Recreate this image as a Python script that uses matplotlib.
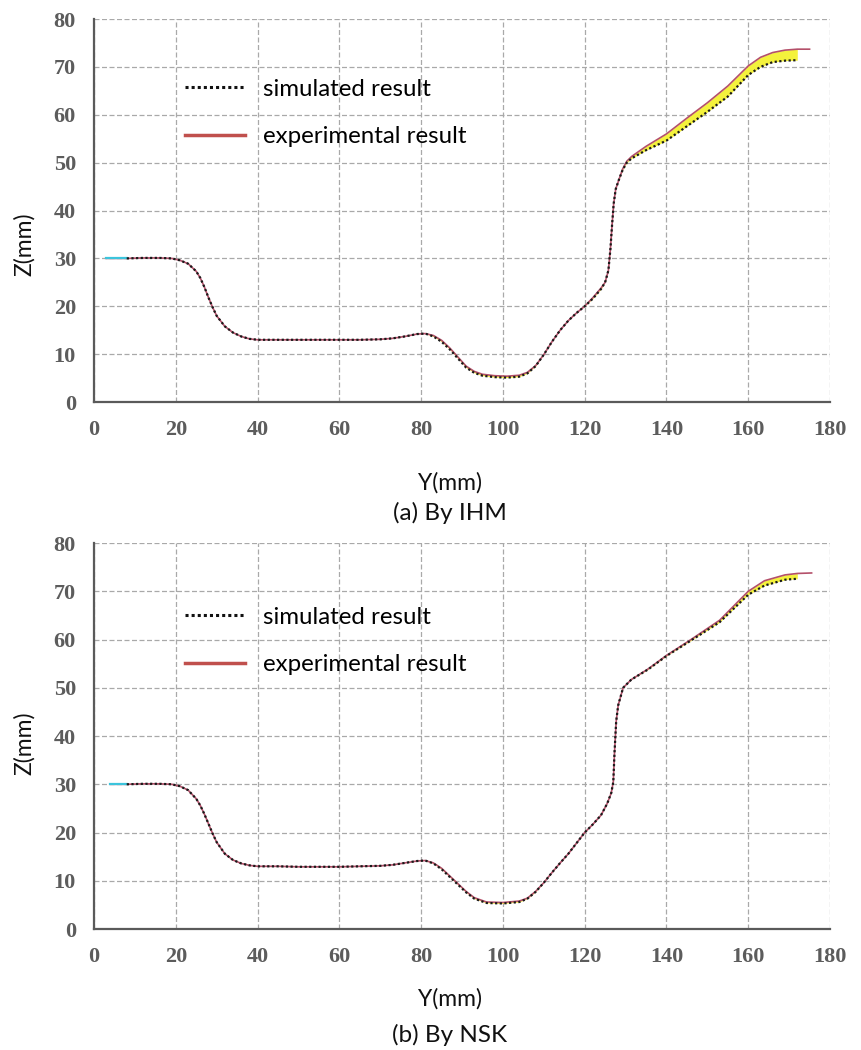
import numpy as np
import matplotlib
matplotlib.use("Agg")
import matplotlib.pyplot as plt

# ---------------------------------------------------------------
# profile data, Y(mm) vs Z(mm)
# ---------------------------------------------------------------
nan = np.nan

# (a) IHM
y_a = [3, 8, 12, 16, 19, 21, 23, 25, 26, 27, 28, 29, 30, 32, 34, 36, 38, 40,
       45, 50, 55, 60, 65, 70, 73, 76, 79, 81, 83, 85, 87, 89, 91, 93, 95, 98,
       101, 104, 106, 108, 110, 112, 114, 116, 118, 120, 122, 124, 125, 125.8,
       126.3, 126.7, 127.1, 127.6, 128.4, 129.3, 130.3, 131.5, 135, 140, 145,
       150, 155, 160, 163, 166, 169, 172, 175]
exp_a = [30.0, 30.0, 30.1, 30.1, 30.0, 29.6, 28.9, 27.3, 25.9, 24.0, 21.8, 19.8,
         18.0, 15.8, 14.5, 13.7, 13.2, 13.0, 13.0, 13.0, 13.0, 13.0, 13.0, 13.1,
         13.3, 13.7, 14.2, 14.3, 13.9, 12.9, 11.3, 9.4, 7.5, 6.4, 5.8, 5.5, 5.4,
         5.6, 6.2, 7.6, 9.9, 12.6, 15.0, 17.0, 18.6, 20.0, 21.8, 23.8, 25.0, 27.5,
         32.0, 37.0, 41.5, 44.5, 46.5, 48.7, 50.3, 51.3, 53.4, 56.0, 59.3, 62.5,
         66.0, 70.2, 72.0, 73.0, 73.5, 73.7, 73.7]
sim_a = [nan, 30.0, 30.1, 30.1, 30.0, 29.6, 28.9, 27.3, 25.9, 24.0, 21.8, 19.8,
         18.0, 15.8, 14.5, 13.7, 13.2, 13.0, 13.0, 13.0, 13.0, 13.0, 13.0, 13.1,
         13.3, 13.7, 14.2, 14.3, 13.7, 12.6, 11.0, 9.1, 7.2, 6.1, 5.5, 5.2, 5.1,
         5.3, 6.0, 7.5, 9.9, 12.6, 15.0, 17.0, 18.6, 20.0, 21.6, 23.6, 25.0, 27.5,
         32.0, 37.0, 41.5, 44.5, 46.5, 48.5, 50.0, 50.9, 52.6, 54.6, 57.6, 60.6,
         63.8, 68.3, 70.0, 71.0, 71.3, 71.4, nan]

# (b) NSK
y_b = [4, 8, 12, 16, 19, 21, 23, 25, 26, 27, 28, 29, 30, 32, 34, 36, 38, 40,
       45, 50, 55, 60, 65, 70, 73, 76, 79, 81, 83, 85, 87, 89, 91, 93, 96, 100,
       104, 106, 108, 110, 112, 114, 116, 118, 120, 122, 124, 125.5, 126.5, 127,
       127.3, 127.7, 128.2, 129.4, 131.4, 135.5, 140, 146, 153, 160, 164, 169,
       172, 175.5]
exp_b = [30.0, 30.0, 30.1, 30.1, 30.0, 29.6, 28.8, 27.0, 25.6, 23.8, 21.8, 19.8,
         18.0, 15.6, 14.3, 13.6, 13.2, 13.0, 13.0, 12.9, 12.9, 12.9, 13.0, 13.1,
         13.3, 13.7, 14.1, 14.2, 13.7, 12.6, 11.0, 9.4, 7.8, 6.5, 5.6, 5.5, 5.8,
         6.4, 7.8, 9.6, 11.7, 13.7, 15.6, 17.8, 20.0, 21.7, 23.6, 26.0, 28.2, 30.5,
         36.6, 43.0, 46.4, 50.0, 51.7, 53.9, 56.7, 60.0, 64.0, 70.0, 72.2, 73.4,
         73.7, 73.8]
sim_b = [nan, 30.0, 30.1, 30.1, 30.0, 29.6, 28.8, 27.0, 25.6, 23.8, 21.8, 19.8,
         18.0, 15.6, 14.3, 13.6, 13.2, 13.0, 13.0, 12.9, 12.9, 12.9, 13.0, 13.1,
         13.3, 13.7, 14.1, 14.2, 13.6, 12.4, 10.8, 9.2, 7.6, 6.3, 5.4, 5.3, 5.6,
         6.3, 7.7, 9.6, 11.7, 13.7, 15.6, 17.8, 20.0, 21.7, 23.6, 26.0, 28.2, 30.5,
         36.6, 43.0, 46.4, 50.0, 51.7, 53.8, 56.6, 59.8, 63.6, 69.3, 71.2, 72.4,
         72.6, nan]

x_ticks = list(range(0, 181, 20))
z_ticks = list(range(0, 81, 10))
captions = ["(a) By IHM", "(b) By NSK"]

# ---------------------------------------------------------------
sans = ["Lato", "DejaVu Sans"]
tick_font = {"family": "Liberation Serif", "weight": "bold", "size": 16}
tick_color = "#5c5c5c"
grid_color = "#a9a9a9"
red = "#c0504d"

fig = plt.figure(figsize=(8.61, 10.50), dpi=100)
ax_a = fig.add_axes([0.1092, 0.6171, 0.8548, 0.3648])
ax_b = fig.add_axes([0.1092, 0.1152, 0.8548, 0.3676])

panels = [(ax_a, y_a, exp_a, sim_a, 0.413, -0.212, 0.5114, 0.844),
          (ax_b, y_b, exp_b, sim_b, 0.482, -0.182, 0.0143, 0.835)]

for i, (ax, y, ze, zs, zlab_y, ylab_y, cap_y, leg_y) in enumerate(panels):
    y = np.array(y)
    ze = np.array(ze)
    zs = np.array(zs)

    # deviation band between the two profiles
    ok = ~np.isnan(zs)
    ax.fill_between(y[ok], zs[ok], ze[ok], color="#f4f23c", lw=0, zorder=2)

    ax.plot(y, ze, color="#b4506a", lw=1.2, zorder=3)
    ax.plot(y[:2], ze[:2], color="#3cc4dc", lw=1.6, zorder=3)
    ax.plot(y, zs, color="#1a1a1a", lw=1.6, ls=(0, (1, 1.1)), zorder=4)

    ax.set_xlim(0, 180)
    ax.set_ylim(0, 80)
    ax.set_xticks(x_ticks)
    ax.set_yticks(z_ticks)
    ax.grid(True, color=grid_color, lw=0.9, ls=(0, (4, 2)))
    ax.set_axisbelow(True)
    for s in ["top", "right"]:
        ax.spines[s].set_visible(False)
    for s in ["left", "bottom"]:
        ax.spines[s].set_color("#5a5a5a")
        ax.spines[s].set_linewidth(1.6)
    ax.tick_params(axis="both", length=0, colors=tick_color)
    ax.tick_params(axis="x", pad=13)
    ax.tick_params(axis="y", pad=13)
    for lab in ax.get_xticklabels() + ax.get_yticklabels():
        lab.set_fontproperties(tick_font)

    ax.set_ylabel("Z(mm)", family=sans, fontsize=16.5, color="#111111",
                  va="center")
    ax.yaxis.set_label_coords(-0.095, zlab_y)
    ax.set_xlabel("Y(mm)", family=sans, fontsize=16.5, color="#111111",
                  va="center")
    ax.xaxis.set_label_coords(0.484, ylab_y)

    # legend
    h_sim, = ax.plot([], [], color="#111111", lw=2.2, ls=(0, (1, 1)))
    h_exp, = ax.plot([], [], color=red, lw=2.5)
    ax.legend([h_sim, h_exp], ["simulated result", "experimental result"],
              loc="upper left", bbox_to_anchor=(0.124, leg_y), frameon=False,
              prop={"family": sans, "size": 17.3}, handlelength=2.5,
              handletextpad=0.75, labelspacing=1.1, borderpad=0,
              borderaxespad=0)

    fig.text(0.5226, cap_y, captions[i], family=sans, fontsize=17.5,
             color="#111111", ha="center", va="center")

fig.savefig("out.png", dpi=100, facecolor="white")
